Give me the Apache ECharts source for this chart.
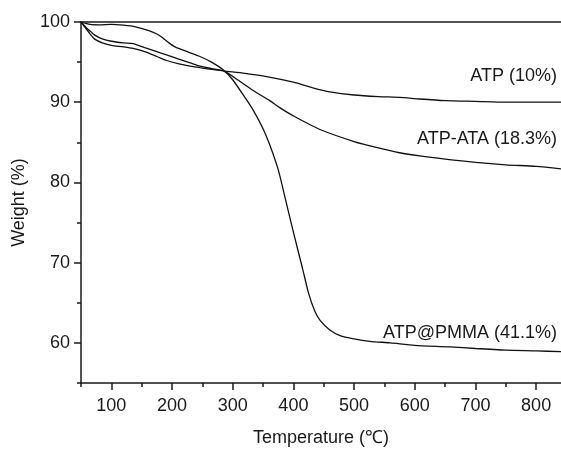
<!DOCTYPE html>
<html><head><meta charset="utf-8">
<script src="https://cdn.jsdelivr.net/npm/echarts@6/dist/echarts.min.js"></script>
<style>html,body{margin:0;padding:0;background:#fff}#c{width:561px;height:449px}</style>
</head><body><div id="c"></div>
<script>
var atpX = [50,55,60,66,72,85,100,120,136,155,175,191,210,230,246,265,285,320,356,400,432,460,500,540,575,608,650,700,750,800,841];
var atpY = [100,99.5,99.0,98.4,97.9,97.4,97.1,96.9,96.7,96.3,95.7,95.2,94.8,94.5,94.3,94.1,93.9,93.6,93.2,92.5,91.8,91.3,90.9,90.7,90.6,90.4,90.2,90.1,90.0,90.0,90.0];
var ataX = [50,55,60,66,72,85,100,120,136,155,175,191,210,230,246,265,285,310,333,361,378,400,444,500,540,575,608,650,700,750,800,841];
var ataY = [100,99.6,99.2,98.8,98.4,97.9,97.6,97.4,97.3,96.8,96.3,95.9,95.4,94.9,94.5,94.2,93.9,92.7,91.5,90.2,89.3,88.3,86.6,85.1,84.3,83.7,83.3,82.9,82.5,82.2,82.0,81.7];
var pmmaX = [50,65,80,100,120,140,163,175,185,195,205,225,246,265,285,300,320,333,350,361,375,386,400,415,425,435,444,460,477,500,526,560,600,658,700,750,800,841];
var pmmaY = [100,99.7,99.65,99.7,99.6,99.4,98.9,98.5,98.0,97.4,96.9,96.3,95.7,95.0,94.0,92.8,90.6,89.1,86.7,84.7,81.6,78.2,73.8,69.3,66.2,64.0,62.8,61.6,60.9,60.5,60.2,60.0,59.7,59.5,59.3,59.1,59.0,58.9];
var xMajor = [100,200,300,400,500,600,700,800];
var xMinor = [50,150,250,350,450,550,650,750];
var yMajor = [60,70,80,90,100];
var yMinor = [55,65,75,85,95];
var labels = ['ATP (10%)','ATP-ATA (18.3%)','ATP@PMMA (41.1%)'];

function pairs(xs, ys){ return xs.map(function(x,i){return [x, ys[i]];}); }
var FONT = 'Liberation Sans, Arial, sans-serif';
var C = '#1a1a1a';
var chart = echarts.init(document.getElementById('c'));
var lineStyle = {color:'#111', width:1.3};
chart.setOption({
  animation:false,
  backgroundColor:'#fff',
  grid:{left:81, top:22, right:0, bottom:66, containLabel:false, outerBoundsMode:'none'},
  xAxis:[
    {type:'value', min:50, max:841, position:'bottom',
     name:'Temperature (℃)', nameLocation:'middle', nameGap:46,
     nameTextStyle:{fontFamily:FONT, fontSize:18, color:C},
     axisLine:{show:true, lineStyle:{color:C, width:1.5}},
     axisTick:{show:true, inside:false, length:7, customValues:xMajor, lineStyle:{color:C, width:1.5}},
     axisLabel:{show:true, customValues:xMajor, margin:14, fontFamily:FONT, fontSize:18, color:C},
     splitLine:{show:false}},
    {type:'value', min:50, max:841, position:'bottom', offset:0,
     axisLine:{show:false},
     axisTick:{show:true, length:4, customValues:xMinor, lineStyle:{color:C, width:1.5}},
     axisLabel:{show:false}, splitLine:{show:false}},
    {type:'value', min:50, max:841, position:'top', offset:0,
     axisLine:{show:true, lineStyle:{color:C, width:1.5}},
     axisTick:{show:false}, axisLabel:{show:false}, splitLine:{show:false}}
  ],
  yAxis:[
    {type:'value', min:55, max:100, position:'left',
     name:'Weight (%)', nameLocation:'middle', nameGap:53,
     nameTextStyle:{fontFamily:FONT, fontSize:18, color:C},
     axisLine:{show:true, lineStyle:{color:C, width:1.5}},
     axisTick:{show:true, length:7, customValues:yMajor, lineStyle:{color:C, width:1.5}},
     axisLabel:{show:true, customValues:yMajor, margin:11, fontFamily:FONT, fontSize:18, color:C},
     splitLine:{show:false}},
    {type:'value', min:55, max:100, position:'left', offset:0,
     axisLine:{show:false},
     axisTick:{show:true, length:4, customValues:yMinor, lineStyle:{color:C, width:1.5}},
     axisLabel:{show:false}, splitLine:{show:false}}
  ],
  series:[
    {type:'line', name:labels[0], data:pairs(atpX, atpY), showSymbol:false, smooth:0.25, lineStyle:lineStyle},
    {type:'line', name:labels[1], data:pairs(ataX, ataY), showSymbol:false, smooth:0.25, lineStyle:lineStyle},
    {type:'line', name:labels[2], data:pairs(pmmaX, pmmaY), showSymbol:false, smooth:0.25, lineStyle:lineStyle}
  ],
  graphic:[
    {type:'text', right:4, top:67, style:{text:labels[0], font:'18px '+FONT, fill:C}},
    {type:'text', right:4, top:130, style:{text:labels[1], font:'18px '+FONT, fill:C}},
    {type:'text', right:4, top:324, style:{text:labels[2], font:'18px '+FONT, fill:C}}
  ]
});
</script></body></html>
